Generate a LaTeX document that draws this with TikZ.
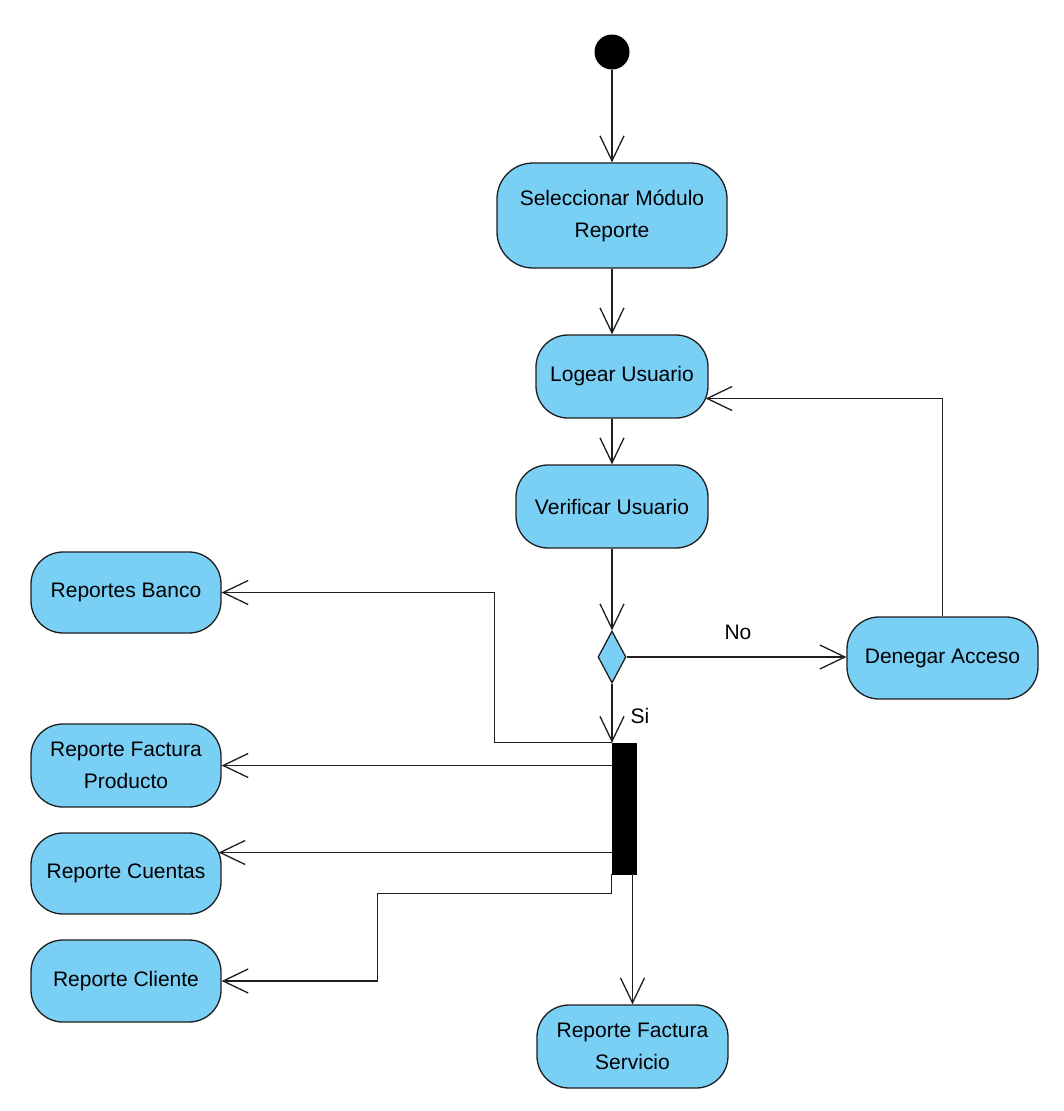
\documentclass[tikz,border=0pt]{standalone}
\usepackage{fontspec}
\setmainfont{Liberation Sans}
\usetikzlibrary{arrows.meta,shapes.geometric}
\definecolor{actfill}{RGB}{122,207,245}
\definecolor{edge}{RGB}{30,30,30}
\begin{document}
\begin{tikzpicture}[x=1pt,y=-1pt,
  act/.style={draw=edge, line width=1.3pt, fill=actfill, rounded corners=32pt,
    minimum height=83pt, inner sep=0pt, align=center,
    font=\fontsize{21}{32}\selectfont},
  arr/.style={draw=edge, line width=1.3pt,
    -{Straight Barb[length=25pt,width=24pt,line width=1.3pt]}},
  lbl/.style={font=\fontsize{21}{25}\selectfont, inner sep=0pt}]
\useasboundingbox (0,0) rectangle (1064,1111);
\fill[white] (0,0) rectangle (1064,1111);

\node[fill=black, circle, minimum size=35pt, inner sep=0pt] (start) at (612,52) {};
\node[act, minimum width=230pt, minimum height=105pt, rounded corners=36pt] (sel) at (612,215.5) {Seleccionar Módulo\\Reporte};
\node[act, minimum width=172pt] (log) at (622,376.5) {Logear Usuario};
\node[act, minimum width=192pt] (ver) at (612,506.5) {Verificar Usuario};
\node[diamond, draw=edge, line width=1.3pt, fill=actfill, minimum width=28pt, minimum height=52pt, inner sep=0pt] (dec) at (612,657) {};
\node[fill=black, draw=black, minimum width=24pt, minimum height=131pt, inner sep=0pt] (fork) at (624,808.5) {};
\node[act, minimum width=191pt, minimum height=82pt] (den) at (942.5,658) {Denegar Acceso};
\node[act, minimum width=190pt, minimum height=81pt] (banco) at (126,592.5) {Reportes Banco};
\node[act, minimum width=190pt] (rfp) at (126,765.5) {Reporte Factura\\Producto};
\node[act, minimum width=190pt, minimum height=81pt] (cue) at (126,873.5) {Reporte Cuentas};
\node[act, minimum width=190pt, minimum height=82pt] (cli) at (126,981) {Reporte Cliente};
\node[act, minimum width=191pt] (serv) at (632.5,1046.5) {Reporte Factura\\Servicio};

\node[lbl] (no) at (738,632) {No};
\node[lbl] (si) at (640,716) {Si};

\coordinate (logIn) at ([xshift=-3pt,yshift=-22pt]log.east);
\coordinate (cueIn) at ([xshift=-3pt,yshift=21pt]cue.east);

\draw[arr] (start) -- (sel.south |- sel.north);
\draw[arr] (sel.south) -- (sel.south |- log.north);
\draw[arr] (sel.south |- log.south) -- (sel.south |- ver.north);
\draw[arr] (ver.south) -- (dec.north);
\draw[arr] (dec.south) -- (dec.south |- fork.north);
\draw[arr] (dec.east) -- (dec.east -| den.west);
\draw[arr] (den.north) |- (logIn);
\draw[arr] (fork.north west) -- ++(-117,0) |- (banco.east);
\draw[arr] (fork.west |- rfp.east) -- (rfp.east);
\draw[arr] (fork.west |- cueIn) -- (cueIn);
\draw[arr] (fork.south west) -- ++(0,19) -- ++(-234,0) |- (cli.east);
\draw[arr] (serv.north |- fork.south) -- (serv.north);
\end{tikzpicture}
\end{document}
